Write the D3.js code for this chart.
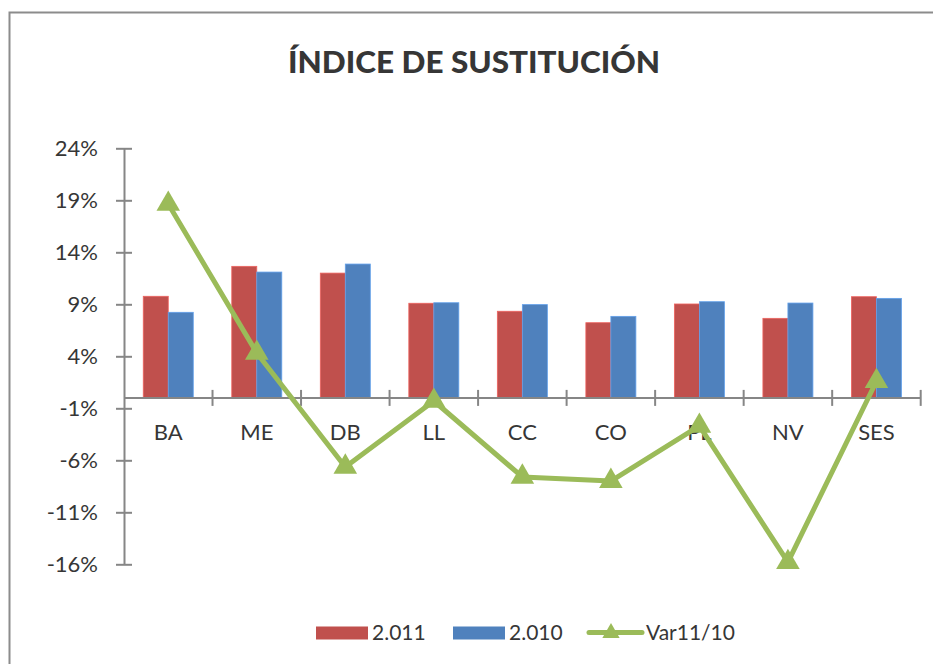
<!DOCTYPE html>
<html>
<head>
<meta charset="utf-8">
<script src="https://cdn.jsdelivr.net/npm/d3@7/dist/d3.min.js"></script>
<style>
  body { margin: 0; background: #fff; }
  text { font-family: Lato, "Open Sans", sans-serif; fill: #363636; }
</style>
</head>
<body>
<div id="chart"></div>
<script>
const categories = ['BA', 'ME', 'DB', 'LL', 'CC', 'CO', 'PL', 'NV', 'SES'];
const v2011 = [0.0977, 0.1265, 0.120, 0.091, 0.0833, 0.0723, 0.0903, 0.0765, 0.0973];
const v2010 = [0.0823, 0.121, 0.1287, 0.0915, 0.0897, 0.0784, 0.0925, 0.0912, 0.0957];
const var1110 = [0.1864, 0.0432, -0.0664, -0.003, -0.076, -0.080, -0.027, -0.158, 0.016];
const yTicks = [-0.16, -0.11, -0.06, -0.01, 0.04, 0.09, 0.14, 0.19, 0.24];
const seriesNames = ['2.011', '2.010', 'Var11/10'];
const colors = {'2.011': '#C0504D', '2.010': '#4F81BD', 'Var11/10': '#9BBB59'};

const W = 933, H = 664;
const svg = d3.select('#chart').append('svg')
    .attr('width', W).attr('height', H);

// outer chart border (runs off the right/bottom edges)
svg.append('rect')
    .attr('x', 9.5).attr('y', 12.5)
    .attr('width', W + 10).attr('height', H + 10)
    .attr('fill', 'none').attr('stroke', '#8c8c8c').attr('stroke-width', 2);

svg.append('text')
    .attr('x', 474).attr('y', 73)
    .attr('text-anchor', 'middle')
    .attr('textLength', 372).attr('lengthAdjust', 'spacingAndGlyphs')
    .style('font-size', '30px').style('font-weight', '900')
    .text('ÍNDICE DE SUSTITUCIÓN');

const x = d3.scaleBand().domain(categories).range([124, 920.7]);
const xs = d3.scaleBand().domain(['2.011', '2.010'])
    .range([0, x.bandwidth()]).paddingOuter(0.77);
const y = d3.scaleLinear().domain([-0.16, 0.24]).range([564.3, 148.3]);

const axisColor = '#868686';
const pct = d => d3.format('.0%')(d).replace('\u2212', '-');

// y axis
const yAxis = svg.append('g')
    .attr('transform', 'translate(124,0)')
    .call(d3.axisLeft(y).tickValues(yTicks).tickFormat(pct)
        .tickSizeInner(8).tickSizeOuter(0).tickPadding(18));
yAxis.select('.domain').attr('stroke', axisColor).attr('stroke-width', 2);
yAxis.selectAll('.tick line')
    .attr('x1', 8).attr('x2', -8)
    .attr('stroke', axisColor).attr('stroke-width', 2);
yAxis.selectAll('.tick text')
    .style('font-size', '22px').style('font-family', 'Lato, sans-serif')
    .attr('fill', '#363636');

// bars
const barData = categories.flatMap((c, i) => [
  {cat: c, s: '2.011', v: v2011[i]},
  {cat: c, s: '2.010', v: v2010[i]}
]);
svg.append('g').selectAll('rect')
    .data(barData).enter().append('rect')
    .attr('x', d => x(d.cat) + xs(d.s))
    .attr('width', xs.bandwidth())
    .attr('y', d => y(Math.max(0, d.v)))
    .attr('height', d => Math.abs(y(d.v) - y(0)))
    .attr('fill', d => colors[d.s])
    .attr('stroke', d => d3.color(colors[d.s]).brighter(0.6))
    .attr('stroke-width', 0.8);

// x axis at 0
const xAxisG = svg.append('g').attr('transform', `translate(0,${y(0)})`);
xAxisG.append('line')
    .attr('x1', 124).attr('x2', 920.7)
    .attr('stroke', axisColor).attr('stroke-width', 2);
const bounds = categories.map(c => x(c) + x.bandwidth());
xAxisG.selectAll('.bt').data(bounds).enter().append('line')
    .attr('x1', d => d).attr('x2', d => d)
    .attr('y1', -8).attr('y2', 8)
    .attr('stroke', axisColor).attr('stroke-width', 2);
svg.append('g').selectAll('text').data(categories).enter().append('text')
    .attr('x', d => x(d) + x.bandwidth() / 2)
    .attr('y', 440)
    .attr('text-anchor', 'middle')
    .style('font-size', '22px')
    .text(d => d);

// line series
const lineData = categories.map((c, i) => [x(c) + x.bandwidth() / 2, y(var1110[i])]);
svg.append('path')
    .datum(lineData)
    .attr('d', d3.line())
    .attr('fill', 'none')
    .attr('stroke', colors['Var11/10'])
    .attr('stroke-width', 5)
    .attr('stroke-linejoin', 'round');
const tri = d3.symbol().type(d3.symbolTriangle).size(240);
svg.append('g').selectAll('path').data(lineData).enter().append('path')
    .attr('d', tri)
    .attr('transform', d => `translate(${d[0]},${d[1]})`)
    .attr('fill', colors['Var11/10']);

// legend
const leg = svg.append('g');
leg.append('rect').attr('x', 316).attr('y', 626.5).attr('width', 52).attr('height', 13)
    .attr('fill', colors['2.011']);
leg.append('text').attr('x', 372).attr('y', 640).style('font-size', '21px').text(seriesNames[0]);
leg.append('rect').attr('x', 453).attr('y', 626.5).attr('width', 52).attr('height', 13)
    .attr('fill', colors['2.010']);
leg.append('text').attr('x', 509).attr('y', 640).style('font-size', '21px').text(seriesNames[1]);
leg.append('line').attr('x1', 589).attr('x2', 642).attr('y1', 632.5).attr('y2', 632.5)
    .attr('stroke', colors['Var11/10']).attr('stroke-width', 5).attr('stroke-linecap', 'round');
leg.append('path').attr('d', d3.symbol().type(d3.symbolTriangle).size(130))
    .attr('transform', 'translate(611,633)').attr('fill', colors['Var11/10']);
leg.append('text').attr('x', 646).attr('y', 640).style('font-size', '21px').text(seriesNames[2]);
</script>
</body>
</html>
